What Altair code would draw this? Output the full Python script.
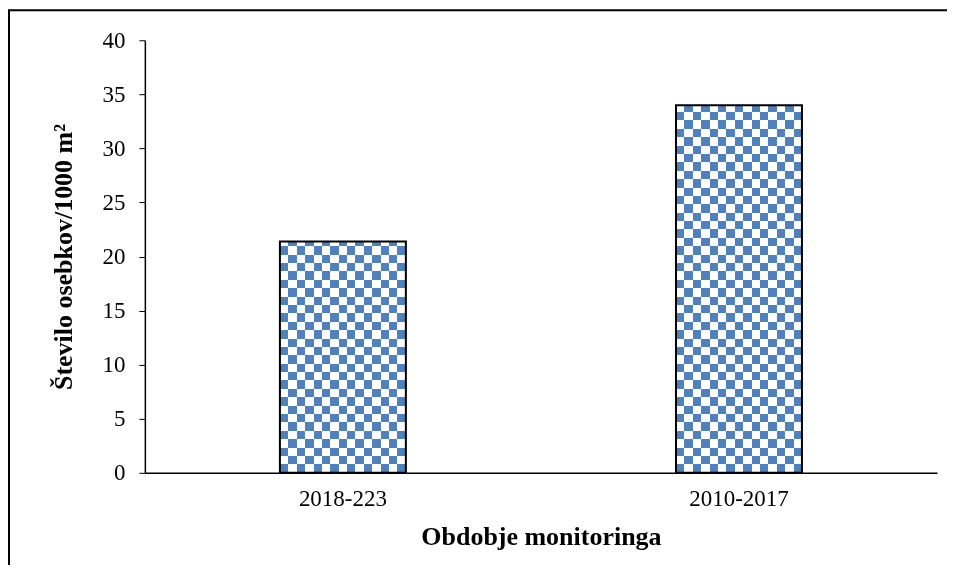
import math
import altair as alt
import pandas as pd

# ---- data ----
categories = ["2018-223", "2010-2017"]
values = [21.4, 34.0]
y_ticks = [0, 5, 10, 15, 20, 25, 30, 35, 40]

df = pd.DataFrame({"period": categories, "value": values})

W, H = 793, 433
Y_MAX = 40
CELL = 8.4
BAR_W = 126
BLUE = "#4F81BD"
FONT = "Liberation Serif"


def stripe_gradient(length_px, vertical_bands):
    n = length_px / CELL
    k = math.ceil(n)
    stops = []
    for i in range(k):
        c = "#000000" if i % 2 == 0 else "#ffffff"
        a = min(1.0, i / n)
        b = min(1.0, (i + 1) / n)
        stops.append({"offset": a, "color": c})
        stops.append({"offset": b, "color": c})
    if vertical_bands:
        return {"gradient": "linear", "x1": 0, "y1": 0, "x2": 1, "y2": 0, "stops": stops}
    return {"gradient": "linear", "x1": 0, "y1": 1, "x2": 0, "y2": 0, "stops": stops}


x_enc = alt.X(
    "period:N",
    sort=categories,
    scale=alt.Scale(paddingInner=0.682, paddingOuter=0.341),
    axis=alt.Axis(
        title="Obdobje monitoringa",
        labelAngle=0,
        ticks=False,
        labelPadding=15,
        labelFont=FONT,
        labelFontSize=23,
        labelColor="black",
        domainColor="black",
        domainWidth=1.5,
        titleFont=FONT,
        titleFontSize=26,
        titleFontWeight="bold",
        titleColor="black",
        titlePadding=13,
    ),
)
y_enc = alt.Y(
    "value:Q",
    scale=alt.Scale(domain=[0, Y_MAX], nice=False),
    axis=alt.Axis(
        title="Število osebkov/1000 m²",
        values=y_ticks,
        grid=False,
        tickSize=6,
        tickColor="black",
        domainColor="black",
        domainWidth=1.5,
        labelPadding=14,
        labelFont=FONT,
        labelFontSize=23,
        labelColor="black",
        titleFont=FONT,
        titleFontSize=26,
        titleFontWeight="bold",
        titleColor="black",
        titlePadding=25,
    ),
)

base = alt.Chart(df).encode(x=x_enc, y=y_enc)

layers = [base.mark_bar(fill=stripe_gradient(BAR_W, True))]
for cat, val in zip(categories, values):
    h_px = val / Y_MAX * H
    layers.append(
        base.transform_filter(alt.datum.period == cat).mark_bar(
            fill=stripe_gradient(h_px, False), blend="difference"
        )
    )
layers.append(base.mark_bar(fill=BLUE, blend="screen"))
layers.append(base.mark_bar(fill="transparent", stroke="black", strokeWidth=2))

frame = alt.Chart(alt.Data(values=[{"f": 1}])).mark_rect(
    fill="transparent", stroke="black", strokeWidth=2
).encode(
    x=alt.value(-136), x2=alt.value(900), y=alt.value(-30), y2=alt.value(700)
)

chart = alt.layer(frame, *layers).properties(
    width=W,
    height=H,
    autosize=alt.AutoSizeParams(type="none"),
    padding={"left": 137, "top": 32, "right": 10, "bottom": 92},
).configure(background="white").configure_view(strokeWidth=0)

chart.save("out.html", embed_options={"renderer": "svg", "actions": False})
